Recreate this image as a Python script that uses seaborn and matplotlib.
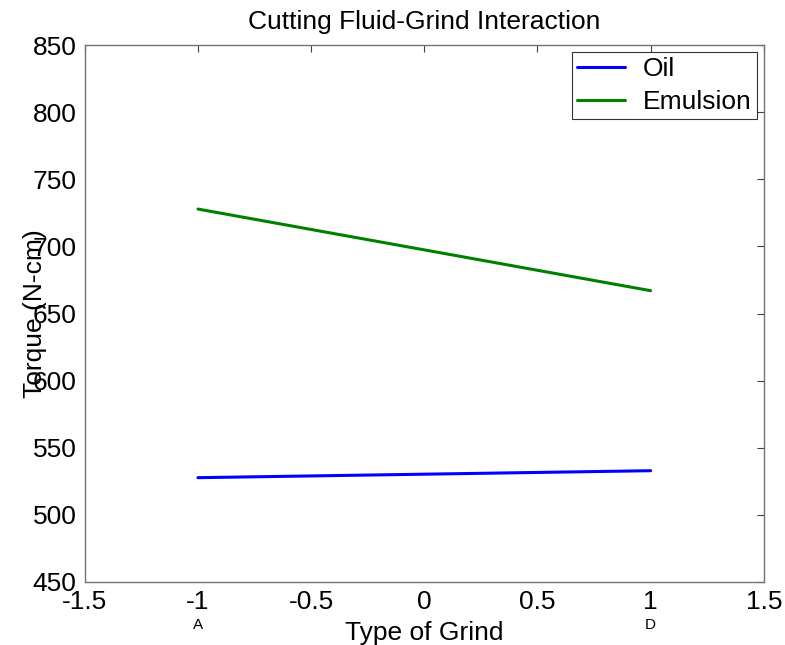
import pandas as pd
import numpy as np
import matplotlib.pyplot as plt
import seaborn as sns

# values
grind = [-1, 1]
oil = [527.7, 532.9]
emulsion = [727.8, 667.0]
fluids = ['Oil', 'Emulsion']
grind_names = ['A', 'D']

df = pd.DataFrame({
    'grind': grind * 2,
    'torque': oil + emulsion,
    'fluid': ['Oil'] * len(grind) + ['Emulsion'] * len(grind),
})

sns.set_style('white')
plt.rcParams['font.family'] = ['Liberation Sans', 'DejaVu Sans']
plt.rcParams['xtick.direction'] = 'in'
plt.rcParams['ytick.direction'] = 'in'
plt.rcParams['text.color'] = 'black'
plt.rcParams['axes.labelcolor'] = 'black'
plt.rcParams['xtick.labelcolor'] = 'black'
plt.rcParams['ytick.labelcolor'] = 'black'

fig = plt.figure(figsize=(7.85, 6.45), dpi=100)
ax = fig.add_axes([0.108, 0.0977, 0.865, 0.8325])

sns.lineplot(data=df, x='grind', y='torque', hue='fluid', hue_order=fluids,
             palette={'Oil': '#0000ff', 'Emulsion': '#008000'},
             linewidth=2.2, ax=ax)

ax.set_xlim(-1.5, 1.5)
ax.set_ylim(450, 850)
ax.set_xticks(np.arange(-1.5, 1.51, 0.5))
ax.set_xticklabels(['-1.5', '-1', '-0.5', '0', '0.5', '1', '1.5'])
ax.set_yticks(np.arange(450, 851, 50))
ax.tick_params(axis='both', labelsize=19, length=5, width=0.8, color='0.25',
               labelcolor='black', top=True, right=True, pad=6)
for s in ax.spines.values():
    s.set_color('0.45')
    s.set_linewidth(1.0)

ax.set_title('Cutting Fluid-Grind Interaction', fontsize=19, pad=11.5, color='black')
ax.set_xlabel('Type of Grind', fontsize=19, labelpad=5)
ax.set_ylabel('Torque (N-cm)', fontsize=19)
ax.yaxis.set_label_coords(-0.056, 0.5)

# grind letters under the -1 / 1 ticks
for g, name in zip(grind, grind_names):
    ax.text(g, -0.08, name, transform=ax.get_xaxis_transform(),
            ha='center', va='center', fontsize=11, color='black')

leg = ax.legend(loc='upper right', fontsize=19, frameon=True, fancybox=False,
                edgecolor='black', borderaxespad=0.25, handlelength=1.8,
                labelspacing=0.35, borderpad=0.2, handletextpad=0.7)
leg.get_frame().set_linewidth(0.8)
for line in leg.get_lines():
    line.set_linewidth(2.2)
for t in leg.get_texts():
    t.set_color('black')

fig.savefig('out.png', dpi=100)
